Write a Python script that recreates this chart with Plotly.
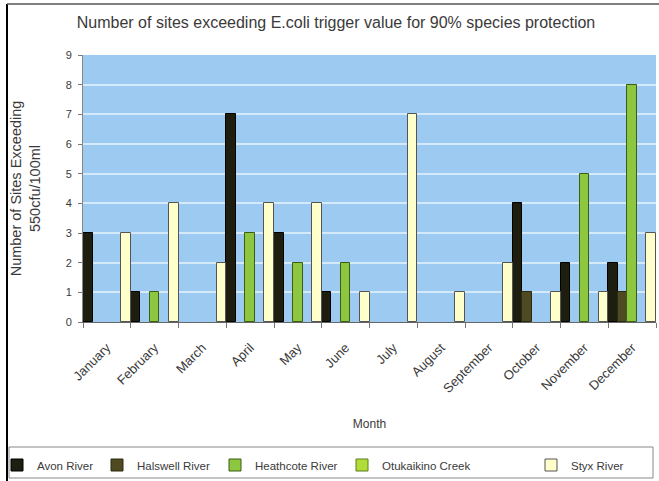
import plotly.graph_objects as go

# Monthly counts of sites exceeding the E. coli trigger value
months = ["January", "February", "March", "April", "May", "June",
          "July", "August", "September", "October", "November", "December"]
avon_river = [3, 1, 0, 7, 3, 1, 0, 0, 0, 4, 2, 2]
halswell_river = [0, 0, 0, 0, 0, 0, 0, 0, 0, 1, 0, 1]
heathcote_river = [0, 1, 0, 3, 2, 2, 0, 0, 0, 0, 5, 8]
otukaikino_creek = [0, 0, 0, 0, 0, 0, 0, 0, 0, 0, 0, 0]
styx_river = [3, 4, 2, 4, 4, 1, 7, 1, 2, 1, 1, 3]

W, H = 659, 481
FONT = "Liberation Sans, Arial, sans-serif"
TXT = "#3a3a3a"


def px_x(v):
    return v / W


def px_y(v):
    return 1 - v / H


# name, values, fill, outline, legend id, left edge of legend text (px)
series = [
    ("Avon River", avon_river, "#1e1e10", "#000000", "legend", 42),
    ("Halswell River", halswell_river, "#504a22", "#2a2a10", "legend2", 142),
    ("Heathcote River", heathcote_river, "#8dc63f", "#3d5c14", "legend3", 260),
    ("Otukaikino Creek", otukaikino_creek, "#b2dc3a", "#5f7f18", "legend4", 387),
    ("Styx River", styx_river, "#ffffcc", "#555555", "legend5", 576),
]

fig = go.Figure()
legend_layouts = {}
for name, vals, fill, edge, leg, text_x in series:
    fig.add_trace(go.Bar(
        name=name, x=months,
        # zero counts leave an empty slot instead of a flat outline
        y=[v if v else None for v in vals],
        marker=dict(color=fill, line=dict(color=edge, width=1)),
        legend=leg, showlegend=True,
    ))
    legend_layouts[leg] = dict(
        orientation="h", x=px_x(text_x - 45), y=px_y(465),
        xanchor="left", yanchor="middle",
        bgcolor="rgba(0,0,0,0)",
        font=dict(family=FONT, size=11.5, color=TXT),
        itemwidth=30,
    )

fig.update_layout(
    width=W, height=H, autosize=False,
    margin=dict(l=0, r=0, t=0, b=0, autoexpand=False),
    showlegend=True,
    paper_bgcolor="white",
    plot_bgcolor="#9ccaf0",
    barmode="group", bargap=0, bargroupgap=0,
    font=dict(family=FONT, size=11, color=TXT),
    title=dict(
        text="Number of sites exceeding E.coli trigger value for 90% species protection",
        x=px_x(336), y=px_y(22), xanchor="center", yanchor="middle",
        font=dict(family=FONT, size=16, color=TXT),
    ),
    xaxis=dict(
        domain=[px_x(83), px_x(656)],
        type="category",
        tickangle=-45,
        ticks="outside", ticklen=5, tickcolor="#777777",
        tickson="boundaries",
        ticklabelstandoff=12,
        showline=True, linecolor="#666666", linewidth=1,
        showgrid=False,
        automargin=False,
        tickfont=dict(family=FONT, size=13, color=TXT),
        title=dict(text="Month", standoff=24,
                   font=dict(family=FONT, size=12, color=TXT)),
    ),
    yaxis=dict(
        domain=[px_y(322), px_y(55)],
        range=[0, 9], dtick=1,
        ticks="outside", ticklen=4, tickcolor="#777777",
        ticklabelstandoff=4,
        showline=True, linecolor="#888888", linewidth=1,
        gridcolor="#d4eafb", gridwidth=1.5,
        zeroline=False,
        automargin=False,
        tickfont=dict(family=FONT, size=11, color=TXT),
        title=dict(text="Number of Sites Exceeding<br>550cfu/100ml", standoff=21,
                   font=dict(family=FONT, size=14.5, color=TXT)),
    ),
    shapes=[
        # legend frame
        dict(type="rect", xref="paper", yref="paper",
             x0=px_x(9), x1=px_x(653), y0=px_y(447), y1=px_y(478),
             line=dict(color="#888888", width=1)),
        # chart frame (left and top edges)
        dict(type="line", xref="paper", yref="paper",
             x0=px_x(7), x1=px_x(7), y0=0, y1=px_y(4),
             line=dict(color="#000000", width=2)),
        dict(type="line", xref="paper", yref="paper",
             x0=px_x(7), x1=1, y0=px_y(4), y1=px_y(4),
             line=dict(color="#555555", width=1.5)),
    ],
    **legend_layouts,
)

fig.write_html("out.html")
